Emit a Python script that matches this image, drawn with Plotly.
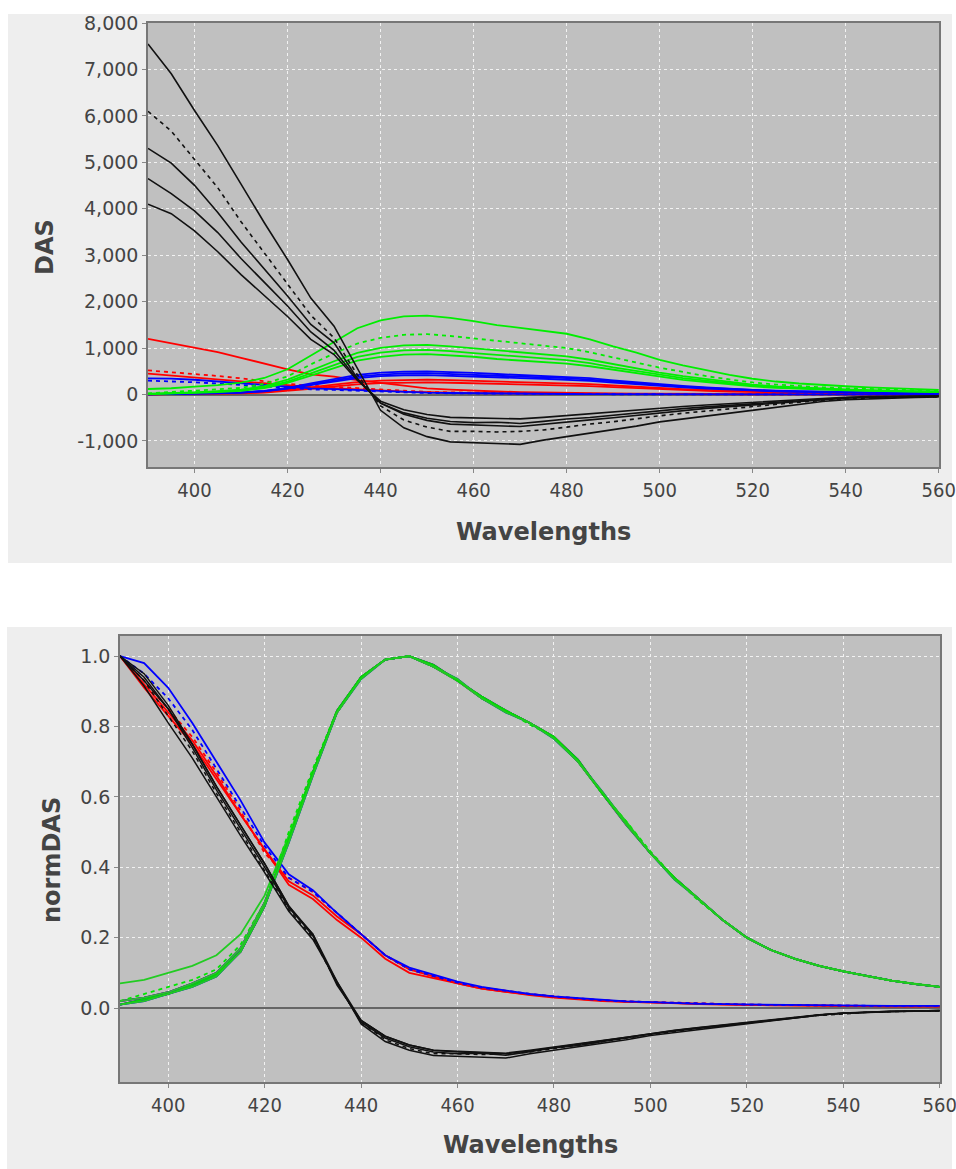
import plotly.graph_objects as go

# ---------------- data ----------------
wavelengths = list(range(390, 561, 5))

# black DAS components: amplitude (DAS at 390 nm) and normalized shape
black_amp = [7550, 6100, 5300, 4650, 4100]
black_dotted = [False, True, False, False, False]
black_norm = [
    [1.00, 0.915, 0.81, 0.71, 0.60, 0.49, 0.385, 0.275, 0.195, 0.075, -0.045, -0.095, -0.12, -0.135, -0.138, -0.14, -0.142, -0.13, -0.12, -0.112, -0.10, -0.09, -0.078, -0.07, -0.06, -0.052, -0.044, -0.036, -0.028, -0.02, -0.015, -0.012, -0.01, -0.008, -0.007],
    [1.00, 0.93, 0.83, 0.73, 0.61, 0.50, 0.39, 0.28, 0.20, 0.07, -0.04, -0.09, -0.115, -0.13, -0.13, -0.132, -0.13, -0.125, -0.115, -0.104, -0.096, -0.085, -0.075, -0.066, -0.058, -0.05, -0.042, -0.035, -0.027, -0.021, -0.016, -0.012, -0.01, -0.009, -0.008],
    [1.00, 0.94, 0.85, 0.74, 0.62, 0.51, 0.40, 0.285, 0.21, 0.065, -0.035, -0.08, -0.105, -0.12, -0.125, -0.127, -0.13, -0.122, -0.112, -0.103, -0.094, -0.084, -0.073, -0.064, -0.056, -0.049, -0.042, -0.034, -0.026, -0.02, -0.015, -0.011, -0.009, -0.008, -0.007],
    [1.00, 0.93, 0.85, 0.75, 0.63, 0.52, 0.41, 0.29, 0.205, 0.07, -0.04, -0.085, -0.11, -0.125, -0.13, -0.128, -0.134, -0.124, -0.113, -0.106, -0.095, -0.086, -0.074, -0.065, -0.057, -0.05, -0.043, -0.035, -0.028, -0.02, -0.015, -0.012, -0.01, -0.009, -0.008],
    [1.00, 0.95, 0.86, 0.75, 0.63, 0.52, 0.41, 0.29, 0.21, 0.075, -0.035, -0.08, -0.105, -0.12, -0.122, -0.125, -0.128, -0.12, -0.11, -0.10, -0.092, -0.083, -0.072, -0.063, -0.055, -0.048, -0.041, -0.033, -0.025, -0.019, -0.014, -0.011, -0.009, -0.008, -0.007],
]

# green DAS components: amplitude (peak DAS) and normalized shape
green_amp = [1700, 1300, 1070, 960, 870]
green_dotted = [False, True, False, False, False]
green_norm = [
    [0.07, 0.08, 0.10, 0.12, 0.15, 0.21, 0.32, 0.49, 0.67, 0.84, 0.94, 0.99, 1.00, 0.97, 0.93, 0.88, 0.845, 0.81, 0.77, 0.70, 0.61, 0.53, 0.44, 0.37, 0.31, 0.25, 0.20, 0.165, 0.14, 0.12, 0.105, 0.09, 0.078, 0.068, 0.06],
    [0.02, 0.04, 0.06, 0.08, 0.11, 0.18, 0.30, 0.50, 0.68, 0.845, 0.94, 0.99, 1.00, 0.97, 0.93, 0.885, 0.845, 0.805, 0.77, 0.70, 0.61, 0.53, 0.445, 0.37, 0.305, 0.25, 0.20, 0.165, 0.14, 0.12, 0.104, 0.09, 0.078, 0.068, 0.06],
    [0.02, 0.03, 0.045, 0.07, 0.10, 0.17, 0.30, 0.48, 0.67, 0.84, 0.94, 0.99, 1.00, 0.97, 0.93, 0.88, 0.845, 0.81, 0.77, 0.70, 0.61, 0.52, 0.44, 0.37, 0.31, 0.25, 0.20, 0.165, 0.14, 0.12, 0.104, 0.09, 0.078, 0.068, 0.06],
    [0.01, 0.025, 0.04, 0.065, 0.095, 0.16, 0.29, 0.48, 0.67, 0.845, 0.94, 0.99, 1.00, 0.975, 0.93, 0.885, 0.845, 0.81, 0.77, 0.705, 0.61, 0.525, 0.44, 0.37, 0.31, 0.25, 0.20, 0.165, 0.14, 0.12, 0.104, 0.09, 0.078, 0.068, 0.06],
    [0.01, 0.02, 0.04, 0.06, 0.09, 0.16, 0.29, 0.47, 0.66, 0.84, 0.935, 0.99, 1.00, 0.97, 0.935, 0.88, 0.84, 0.81, 0.765, 0.70, 0.615, 0.525, 0.44, 0.365, 0.31, 0.25, 0.20, 0.165, 0.14, 0.12, 0.104, 0.09, 0.078, 0.068, 0.06],
]

# red decaying components
red_amp = [1200, 520, 450]
red_dotted = [False, True, False]
red_norm = [
    [1.00, 0.92, 0.84, 0.76, 0.66, 0.55, 0.45, 0.36, 0.32, 0.26, 0.21, 0.15, 0.11, 0.09, 0.07, 0.055, 0.045, 0.037, 0.03, 0.025, 0.02, 0.018, 0.016, 0.013, 0.011, 0.01, 0.009, 0.008, 0.007, 0.007, 0.006, 0.006, 0.005, 0.005, 0.005],
    [1.00, 0.93, 0.85, 0.77, 0.67, 0.56, 0.44, 0.37, 0.33, 0.27, 0.21, 0.15, 0.11, 0.09, 0.072, 0.058, 0.048, 0.04, 0.033, 0.027, 0.022, 0.019, 0.017, 0.014, 0.012, 0.011, 0.01, 0.009, 0.008, 0.007, 0.007, 0.006, 0.006, 0.005, 0.005],
    [1.00, 0.91, 0.83, 0.75, 0.65, 0.55, 0.45, 0.35, 0.31, 0.25, 0.20, 0.14, 0.10, 0.085, 0.068, 0.055, 0.046, 0.038, 0.032, 0.026, 0.021, 0.018, 0.016, 0.013, 0.011, 0.01, 0.009, 0.008, 0.007, 0.007, 0.006, 0.006, 0.005, 0.005, 0.005],
]

# blue decaying components
blue_amp = [350, 300]
blue_dotted = [False, True]
blue_norm = [
    [1.00, 0.98, 0.91, 0.81, 0.70, 0.59, 0.47, 0.38, 0.335, 0.27, 0.21, 0.15, 0.115, 0.095, 0.075, 0.06, 0.05, 0.04, 0.033, 0.028, 0.022, 0.019, 0.017, 0.014, 0.012, 0.011, 0.01, 0.009, 0.008, 0.008, 0.007, 0.007, 0.006, 0.006, 0.006],
    [1.00, 0.95, 0.88, 0.79, 0.68, 0.57, 0.46, 0.37, 0.33, 0.27, 0.21, 0.15, 0.11, 0.09, 0.072, 0.058, 0.048, 0.04, 0.033, 0.027, 0.022, 0.019, 0.017, 0.014, 0.012, 0.011, 0.01, 0.009, 0.008, 0.008, 0.007, 0.007, 0.006, 0.006, 0.006],
]

# red / blue components with a rising (green-like) shape: peak amplitudes, shape index into green_norm
red_rise_amp = [320, 260]
red_rise_shape = [2, 3]
blue_rise_amp = [500, 460, 420]
blue_rise_shape = [3, 4, 2]

das_ticks = [-1000, 0, 1000, 2000, 3000, 4000, 5000, 6000, 7000, 8000]
das_ticktext = ["-1,000", "0", "1,000", "2,000", "3,000", "4,000", "5,000", "6,000", "7,000", "8,000"]
norm_ticks = [0.0, 0.2, 0.4, 0.6, 0.8, 1.0]
norm_ticktext = ["0.0", "0.2", "0.4", "0.6", "0.8", "1.0"]
wl_ticks = [400, 420, 440, 460, 480, 500, 520, 540, 560]

# ---------------- figure ----------------
W, H = 956, 1169
RED, BLUE, BLACK = "#ff0000", "#0000ff", "#111111"
GREEN_TOP = "#00ee00"
GREEN_BOT = ["#22cc22", "#00e600", "#33bb33", "#00dd00", "#22c822"]
DOT = "4px,4px"

fig = go.Figure()


def add(xs, ys, color, dotted, top, width=1.8):
    fig.add_trace(go.Scatter(
        x=xs, y=ys, mode="lines",
        line=dict(color=color, width=width, dash=DOT if dotted else "solid"),
        xaxis="x" if top else "x2", yaxis="y" if top else "y2",
        showlegend=False, hoverinfo="skip"))


# ---- top: DAS ----
for a, s in zip(red_rise_amp, red_rise_shape):
    add(wavelengths, [a * v for v in green_norm[s]], RED, False, True)
for a, n, d in zip(red_amp, red_norm, red_dotted):
    add(wavelengths, [a * v for v in n], RED, d, True)
for a, s in zip(blue_rise_amp, blue_rise_shape):
    add(wavelengths, [a * v for v in green_norm[s]], BLUE, False, True)
for a, n, d in zip(blue_amp, blue_norm, blue_dotted):
    add(wavelengths, [a * v for v in n], BLUE, d, True)
for a, n, d in zip(green_amp, green_norm, green_dotted):
    add(wavelengths, [a * v for v in n], GREEN_TOP, d, True)
for a, n, d in zip(black_amp, black_norm, black_dotted):
    add(wavelengths, [a * v for v in n], BLACK, d, True, width=1.6)

# ---- bottom: normDAS ----
for s in red_rise_shape:
    add(wavelengths, green_norm[s], RED, False, False)
for n, d in zip(red_norm, red_dotted):
    add(wavelengths, n, RED, d, False)
for n, d in zip(blue_norm, blue_dotted):
    add(wavelengths, n, BLUE, d, False)
for s in blue_rise_shape:
    add(wavelengths, green_norm[s], BLUE, False, False)
for i, (n, d) in enumerate(zip(green_norm, green_dotted)):
    add(wavelengths, n, GREEN_BOT[i], d, False)
for n, d in zip(black_norm, black_dotted):
    add(wavelengths, n, BLACK, d, False, width=1.5)


def px(x):
    return x / W


def py(y):
    return 1 - y / H


TICKFONT_X = dict(family="DejaVu Sans Condensed, Liberation Sans Narrow, DejaVu Sans", size=20, color="#444444")
TICKFONT_Y = dict(family="DejaVu Sans, Verdana, sans-serif", size=19, color="#444444")
TITLEFONT = dict(family="DejaVu Sans, Verdana, sans-serif", size=24, color="#444444", weight="bold")

common_axis = dict(
    showline=True, linecolor="#777777", linewidth=1.5, mirror=True,
    ticks="outside", ticklen=4, tickcolor="#888888", tickwidth=1,
    showgrid=True, gridcolor="#f2f2f2", gridwidth=1, griddash="3px,3px",
    automargin=False, ticklabeloverflow="allow",
)

fig.update_layout(
    width=W, height=H,
    margin=dict(l=0, r=0, t=0, b=0, pad=0, autoexpand=False),
    paper_bgcolor="white", plot_bgcolor="rgba(0,0,0,0)",
    showlegend=False,
    xaxis=dict(domain=[px(148), px(939)], anchor="y", range=[390, 560.05],
               tickvals=wl_ticks, tickfont=TICKFONT_X, zeroline=False, **common_axis),
    yaxis=dict(domain=[py(467), py(23)], anchor="x", range=[-1560, 8000],
               tickvals=das_ticks, ticktext=das_ticktext, tickfont=TICKFONT_Y,
               zeroline=True, zerolinecolor="#666666", zerolinewidth=1.5, **common_axis),
    xaxis2=dict(domain=[px(120), px(940)], anchor="y2", range=[390, 560.05],
                tickvals=wl_ticks, tickfont=TICKFONT_X, zeroline=False, **common_axis),
    yaxis2=dict(domain=[py(1082), py(636)], anchor="x2", range=[-0.21, 1.057],
                tickvals=norm_ticks, ticktext=norm_ticktext, tickfont=TICKFONT_Y,
                zeroline=True, zerolinecolor="#666666", zerolinewidth=1.5, **common_axis),
    shapes=[
        dict(type="rect", xref="paper", yref="paper", x0=px(8), x1=px(952), y0=py(563), y1=py(14),
             fillcolor="#eeeeee", line=dict(width=0), layer="below"),
        dict(type="rect", xref="paper", yref="paper", x0=px(7), x1=px(952), y0=py(1169), y1=py(627),
             fillcolor="#eeeeee", line=dict(width=0), layer="below"),
        dict(type="rect", xref="paper", yref="paper", x0=px(148), x1=px(939), y0=py(467), y1=py(23),
             fillcolor="#c0c0c0", line=dict(width=0), layer="below"),
        dict(type="rect", xref="paper", yref="paper", x0=px(120), x1=px(940), y0=py(1082), y1=py(636),
             fillcolor="#c0c0c0", line=dict(width=0), layer="below"),
    ],
    annotations=[
        dict(text="DAS", x=px(45), y=py(247), xref="paper", yref="paper", textangle=-90,
             showarrow=False, xanchor="center", yanchor="middle", font=TITLEFONT),
        dict(text="Wavelengths", x=px(543), y=py(532), xref="paper", yref="paper",
             showarrow=False, xanchor="center", yanchor="middle", font=TITLEFONT),
        dict(text="normDAS", x=px(52), y=py(860), xref="paper", yref="paper", textangle=-90,
             showarrow=False, xanchor="center", yanchor="middle", font=TITLEFONT),
        dict(text="Wavelengths", x=px(530), y=py(1145), xref="paper", yref="paper",
             showarrow=False, xanchor="center", yanchor="middle", font=TITLEFONT),
    ],
)

fig.write_html("out.html")
